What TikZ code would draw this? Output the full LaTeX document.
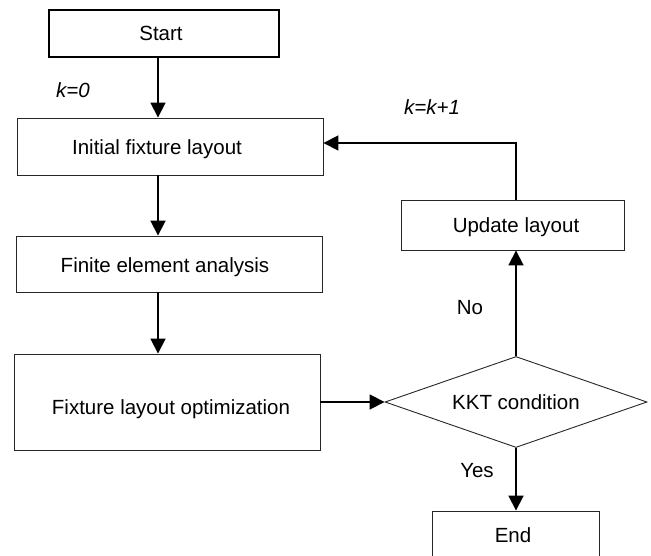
\documentclass[tikz,border=0pt]{standalone}
\usepackage{fontspec}
\setmainfont{Liberation Sans}
\usetikzlibrary{arrows.meta,shapes.geometric,calc}
\begin{document}
\begin{tikzpicture}[x=1pt,y=-1pt,
  box/.style={draw=black!85, line width=0.9pt, rectangle, inner sep=0pt},
  txt/.style={inner sep=0pt, font=\fontsize{20.5}{24}\selectfont, text height=14.7pt, text depth=0pt},
  conn/.style={line width=1.8pt, -{Triangle[length=15pt,width=15pt]}},
  plain/.style={line width=1.8pt}]
\useasboundingbox (0,0) rectangle (651,556);
% boxes
\node[box, line width=2pt, draw=black, minimum width=230pt, minimum height=47pt] (start) at (164,33.5) {};
\node[box, minimum width=306pt, minimum height=57pt] (init) at (170,146.5) {};
\node[box, minimum width=306pt, minimum height=56pt] (fea) at (169,264) {};
\node[box, minimum width=306pt, minimum height=96pt] (fix) at (167,402) {};
\node[box, minimum width=223pt, minimum height=50pt] (upd) at (512.5,225) {};
\node[box, minimum width=167pt, minimum height=46pt] (end) at (515.5,534) {};
\node[draw=black!85, line width=0.9pt, diamond, aspect=2.879, inner sep=0pt, minimum width=262pt, minimum height=91pt,
      font=\fontsize{20.5}{24}\selectfont, text height=14.7pt, text depth=0pt] (kkt) at (516,402) {KKT condition};
% texts
\node[txt] (startT) at (161,33) {Start};
\node[txt] (initT) at (157,147) {Initial fixture layout};
\node[txt] (feaT) at (165,265) {Finite element analysis};
\node[txt] (fixT) at (171,407) {Fixture layout optimization};
\node[txt] (updT) at (516,225) {Update layout};
\node[txt] (endT) at (513,535) {End};
% labels
\node[txt] (k0) at (73,90) {\itshape k=0};
\node[txt] (k1) at (432,107) {\itshape k=k+1};
\node[txt] (no) at (470,307) {No};
\node[txt] (yes) at (477,470) {Yes};
% connectors
\coordinate (cx) at (158,0);
\draw[conn] (start.south -| cx) -- (init.north -| cx);
\draw[conn] (init.south -| cx) -- (fea.north -| cx);
\draw[conn] (fea.south -| cx) -- (fix.north -| cx);
\draw[conn] (fix.east) -- (kkt.west);
\draw[conn] (kkt.north) -- (kkt.north |- upd.south);
\draw[conn] (kkt.north |- upd.north) |- ($(init.east)+(0,-3.5)$);
\draw[conn] (kkt.south) -- (kkt.south |- end.north);
\end{tikzpicture}
\end{document}
